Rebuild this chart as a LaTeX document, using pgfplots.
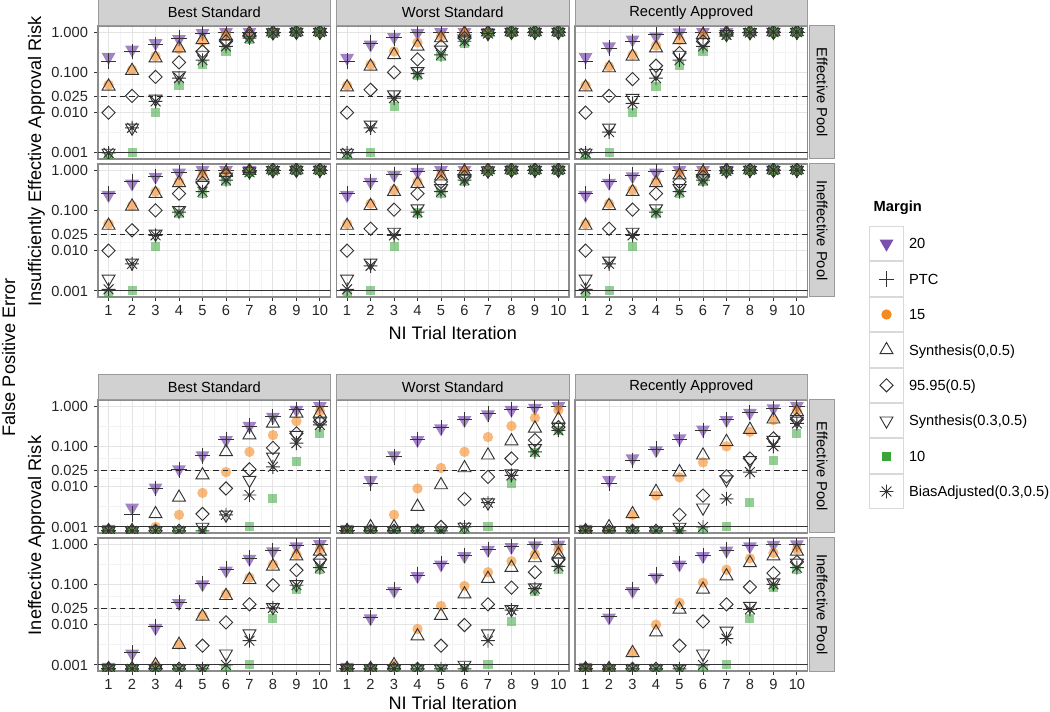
\documentclass[border=0pt]{standalone}
\usepackage{fontspec}
\setmainfont{Liberation Sans}
\usepackage{pgfplots}
\usepackage{pgfplotstable}
\pgfplotsset{compat=1.18}

\definecolor{mpurple}{HTML}{7B4FAF}
\definecolor{morange}{HTML}{F58A24}
\definecolor{mgreen}{HTML}{3AA63A}
\definecolor{gridmaj}{HTML}{E4E4E4}
\definecolor{gridmin}{HTML}{F3F3F3}
\definecolor{framec}{HTML}{8C8C8C}
\definecolor{stripf}{HTML}{D1D1D1}
\definecolor{stripd}{HTML}{9A9A9A}
\definecolor{markc}{HTML}{333333}

\pgfdeclareplotmark{ast8}{%
  \pgfpathmoveto{\pgfqpoint{0pt}{\pgfplotmarksize}}\pgfpathlineto{\pgfqpoint{0pt}{-\pgfplotmarksize}}%
  \pgfpathmoveto{\pgfqpoint{\pgfplotmarksize}{0pt}}\pgfpathlineto{\pgfqpoint{-\pgfplotmarksize}{0pt}}%
  \pgfpathmoveto{\pgfqpoint{.7071\pgfplotmarksize}{.7071\pgfplotmarksize}}\pgfpathlineto{\pgfqpoint{-.7071\pgfplotmarksize}{-.7071\pgfplotmarksize}}%
  \pgfpathmoveto{\pgfqpoint{-.7071\pgfplotmarksize}{.7071\pgfplotmarksize}}\pgfpathlineto{\pgfqpoint{.7071\pgfplotmarksize}{-.7071\pgfplotmarksize}}%
  \pgfusepathqstroke}

\pgfplotsset{
  sA/.style={only marks, mark=triangle*, mark size=6pt, mark options={solid, rotate=180, fill=mpurple, draw=mpurple, fill opacity=0.7, draw opacity=0}},
  sB/.style={only marks, mark=+, mark size=5.8pt, mark options={solid, draw=markc, line width=0.7pt}},
  sC/.style={only marks, mark=*, mark size=3.9pt, mark options={solid, fill=morange, draw=morange, fill opacity=0.6, draw opacity=0}},
  sD/.style={only marks, mark=triangle, mark size=5.6pt, mark options={solid, draw=markc, line width=0.7pt}},
  sE/.style={only marks, mark=square, mark size=3.5pt, mark options={solid, rotate=45, draw=markc, line width=0.7pt}},
  sF/.style={only marks, mark=triangle, mark size=5.6pt, mark options={solid, rotate=180, draw=markc, line width=0.7pt}},
  sG/.style={only marks, mark=square*, mark size=3.4pt, mark options={solid, fill=mgreen, draw=mgreen, fill opacity=0.55, draw opacity=0}},
  sH/.style={only marks, mark=ast8, mark size=5.2pt, mark options={solid, draw=markc, line width=0.7pt}},
  lA/.style={only marks, mark=triangle*, mark size=6pt, mark options={solid, rotate=180, fill=mpurple, draw=mpurple, draw opacity=0}},
  lC/.style={only marks, mark=*, mark size=3.9pt, mark options={solid, fill=morange, draw=morange, draw opacity=0}},
  lG/.style={only marks, mark=square*, mark size=3.4pt, mark options={solid, fill=mgreen, draw=mgreen, draw opacity=0}},
  noxl/.style={xticklabels={}, xtick style={draw=none}},
  noyl/.style={yticklabels={}, ytick style={draw=none}},
}

% x A(20) B(PTC) C(15) D(Syn0) E(95.95) F(Syn0.3) G(10) H(BiasAdj)
\pgfplotstableread{
x A B C D E F G H
1 0.24 0.19 0.049 0.045 0.010 0.001 0.0008 0.001
2 0.365 0.33 0.116 0.11 0.026 0.0042 0.001 0.0042
3 0.53 0.49 0.25 0.226 0.077 0.022 0.010 0.019
4 0.67 0.71 0.38 0.40 0.177 0.083 0.047 0.072
5 0.94 0.94 0.59 0.64 0.33 0.27 0.155 0.20
6 1.0 1.0 0.86 0.78 0.59 0.53 0.33 0.44
7 1.0 1.0 0.95 0.95 0.81 0.78 0.64 0.71
8 1.0 1.0 1.0 0.99 0.97 0.97 0.94 0.96
9 1 1 1 1 1 1 0.99 1
10 1 1 1 1 1 1 1 1
}\TEa
\pgfplotstableread{
x A B C D E F G H
1 0.227 0.19 0.047 0.043 0.010 0.001 0.0008 0.001
2 0.485 0.53 0.155 0.14 0.037 0.005 0.001 0.0042
3 0.75 0.72 0.33 0.27 0.10 0.028 0.014 0.023
4 0.95 0.95 0.55 0.44 0.21 0.106 0.083 0.093
5 1.0 1.0 0.78 0.71 0.44 0.36 0.25 0.27
6 1.0 1.0 0.94 0.94 0.71 0.68 0.53 0.59
7 1 1 0.99 0.99 0.95 0.93 0.9 0.92
8 1 1 1 1 1 1 0.99 1
9 1 1 1 1 1 1 1 1
10 1 1 1 1 1 1 1 1
}\TEb
\pgfplotstableread{
x A B C D E F G H
1 0.24 0.19 0.047 0.043 0.010 0.001 0.0008 0.001
2 0.44 0.40 0.14 0.128 0.026 0.0042 0.001 0.0033
3 0.65 0.59 0.27 0.25 0.068 0.023 0.010 0.017
4 0.78 0.86 0.46 0.40 0.146 0.096 0.045 0.072
5 0.98 0.98 0.64 0.64 0.30 0.27 0.146 0.20
6 1.0 1.0 0.86 0.86 0.59 0.55 0.33 0.44
7 1 1 0.98 0.98 0.9 0.88 0.8 0.85
8 1 1 1 1 0.98 0.98 0.96 0.97
9 1 1 1 1 1 1 1 1
10 1 1 1 1 1 1 1 1
}\TEc
\pgfplotstableread{
x A B C D E F G H
1 0.237 0.26 0.046 0.042 0.010 0.002 0.0008 0.0011
2 0.46 0.51 0.13 0.126 0.032 0.005 0.001 0.0047
3 0.68 0.70 0.29 0.26 0.10 0.026 0.013 0.024
4 0.86 0.86 0.51 0.48 0.26 0.10 0.083 0.09
5 1.0 1.0 0.75 0.70 0.48 0.42 0.26 0.29
6 1.0 1.0 0.90 0.86 0.75 0.68 0.51 0.56
7 1 1 0.96 0.96 0.93 0.92 0.85 0.88
8 1 1 1 1 0.99 0.99 0.98 0.98
9 1 1 1 1 1 1 1 1
10 1 1 1 1 1 1 1 1
}\TIa
\pgfplotstableread{
x A B C D E F G H
1 0.237 0.26 0.046 0.042 0.010 0.002 0.0008 0.0011
2 0.51 0.51 0.146 0.13 0.035 0.005 0.001 0.0042
3 0.75 0.78 0.32 0.29 0.104 0.029 0.013 0.024
4 0.90 0.93 0.51 0.46 0.26 0.11 0.086 0.09
5 1.0 1.0 0.75 0.70 0.51 0.35 0.26 0.29
6 1.0 1.0 0.96 0.92 0.68 0.62 0.51 0.56
7 1 1 1 1 0.97 0.96 0.93 0.95
8 1 1 1 1 1 1 1 1
9 1 1 1 1 1 1 1 1
10 1 1 1 1 1 1 1 1
}\TIb
\pgfplotstableread{
x A B C D E F G H
1 0.237 0.26 0.046 0.042 0.010 0.002 0.0008 0.0011
2 0.48 0.51 0.146 0.13 0.035 0.0056 0.001 0.0047
3 0.70 0.75 0.32 0.29 0.104 0.029 0.013 0.024
4 0.86 0.93 0.51 0.48 0.26 0.11 0.086 0.09
5 1.0 1.0 0.83 0.75 0.51 0.35 0.26 0.29
6 1.0 1.0 0.96 0.88 0.68 0.62 0.51 0.56
7 1 1 1 1 0.97 0.96 0.93 0.95
8 1 1 1 1 1 1 1 1
9 1 1 1 1 1 1 1 1
10 1 1 1 1 1 1 1 1
}\TIc
\pgfplotstableread{
x A B C D E F G H
1 0.0009 0.0008 0.0008 0.0008 0.0008 0.0008 0.0008 0.0008
2 0.003 0.0021 0.0008 0.0008 0.0008 0.0008 0.0008 0.0008
3 0.0095 0.009 0.001 0.0021 0.0008 0.0008 0.0008 0.0008
4 0.027 0.026 0.002 0.0054 0.0008 0.0008 0.0008 0.0008
5 0.06 0.058 0.007 0.0194 0.0021 0.001 0.0008 0.0008
6 0.143 0.15 0.023 0.073 0.009 0.002 0.0007 0.002
7 0.32 0.32 0.073 0.19 0.027 0.0145 0.001 0.0062
8 0.54 0.54 0.19 0.37 0.092 0.055 0.005 0.031
9 0.80 0.80 0.42 0.66 0.21 0.19 0.043 0.12
10 1.0 0.97 0.75 0.66 0.41 0.41 0.21 0.34
}\BEa
\pgfplotstableread{
x A B C D E F G H
1 0.0009 0.0008 0.0008 0.0008 0.0008 0.0008 0.0008 0.0008
2 0.0145 0.012 0.0008 0.001 0.0008 0.0008 0.0008 0.0008
3 0.06 0.055 0.002 0.001 0.0008 0.0008 0.0008 0.0008
4 0.143 0.15 0.009 0.0032 0.0008 0.0008 0.0008 0.0008
5 0.28 0.29 0.029 0.011 0.001 0.0008 0.0008 0.0008
6 0.45 0.46 0.073 0.029 0.0049 0.001 0.0008 0.001
7 0.62 0.64 0.17 0.06 0.0175 0.004 0.001 0.004
8 0.80 0.82 0.32 0.135 0.05 0.021 0.012 0.019
9 0.90 0.92 0.51 0.28 0.143 0.089 0.07 0.073
10 1.0 1.0 0.80 0.47 0.30 0.30 0.25 0.25
}\BEb
\pgfplotstableread{
x A B C D E F G H
1 0.0009 0.0008 0.0008 0.0008 0.0008 0.0008 0.0008 0.0008
2 0.0145 0.012 0.0008 0.001 0.0008 0.0008 0.0008 0.0008
3 0.05 0.045 0.002 0.0021 0.0008 0.0008 0.0008 0.0008
4 0.08 0.085 0.006 0.0075 0.0008 0.0008 0.0008 0.0008
5 0.157 0.15 0.017 0.023 0.002 0.001 0.0008 0.0008
6 0.26 0.25 0.04 0.06 0.006 0.003 0.0008 0.001
7 0.45 0.46 0.10 0.13 0.018 0.015 0.001 0.005
8 0.68 0.70 0.23 0.26 0.05 0.045 0.004 0.023
9 0.88 0.85 0.45 0.47 0.157 0.143 0.044 0.10
10 1.0 1.0 0.77 0.72 0.47 0.43 0.21 0.37
}\BEc
\pgfplotstableread{
x A B C D E F G H
1 0.0009 0.0008 0.0008 0.0008 0.0008 0.0008 0.0008 0.0008
2 0.0019 0.002 0.0008 0.0008 0.0008 0.0008 0.0008 0.0008
3 0.0083 0.0088 0.001 0.001 0.0008 0.0008 0.0008 0.0008
4 0.034 0.036 0.0032 0.0032 0.0008 0.0008 0.0008 0.0008
5 0.1 0.104 0.0168 0.016 0.003 0.0008 0.0008 0.0008
6 0.22 0.24 0.057 0.052 0.0114 0.0019 0.0008 0.001
7 0.43 0.45 0.146 0.13 0.032 0.006 0.001 0.004
8 0.66 0.68 0.31 0.28 0.095 0.027 0.014 0.026
9 0.88 0.90 0.55 0.50 0.225 0.10 0.075 0.095
10 1.0 1.0 0.73 0.66 0.41 0.34 0.23 0.26
}\BIa
\pgfplotstableread{
x A B C D E F G H
1 0.0009 0.0008 0.0008 0.0008 0.0008 0.0008 0.0008 0.0008
2 0.0143 0.015 0.0008 0.0008 0.0008 0.0008 0.0008 0.0008
3 0.069 0.075 0.001 0.001 0.0008 0.0008 0.0008 0.0008
4 0.16 0.17 0.0078 0.0052 0.0008 0.0008 0.0008 0.0008
5 0.31 0.33 0.029 0.0168 0.003 0.0008 0.0008 0.0008
6 0.50 0.52 0.091 0.057 0.0098 0.001 0.0008 0.0008
7 0.72 0.74 0.20 0.138 0.032 0.006 0.001 0.004
8 0.84 0.86 0.375 0.26 0.083 0.024 0.012 0.023
9 0.93 0.95 0.55 0.45 0.20 0.083 0.068 0.078
10 0.97 0.98 0.73 0.55 0.41 0.37 0.23 0.28
}\BIb
\pgfplotstableread{
x A B C D E F G H
1 0.0009 0.0008 0.0008 0.0008 0.0008 0.0008 0.0008 0.0008
2 0.015 0.016 0.0008 0.0008 0.0008 0.0008 0.0008 0.0008
3 0.068 0.075 0.002 0.002 0.0008 0.0008 0.0008 0.0008
4 0.15 0.17 0.01 0.0065 0.0008 0.0008 0.0008 0.0008
5 0.31 0.33 0.035 0.024 0.003 0.0008 0.0008 0.0008
6 0.5 0.52 0.11 0.075 0.012 0.0019 0.0008 0.001
7 0.69 0.71 0.23 0.16 0.032 0.007 0.001 0.0045
8 0.88 0.92 0.44 0.34 0.086 0.029 0.014 0.024
9 0.96 0.97 0.6 0.5 0.19 0.11 0.083 0.10
10 0.98 1.0 0.73 0.66 0.36 0.34 0.23 0.26
}\BIc

\newcommand{\panel}[3]{%
  \begin{axis}[
    scale only axis, width=174.375pt, height=99.75pt,
    at={#2}, anchor=north west,
    xmin=0.55, xmax=10.45, ymode=log, ymin=7.08e-4, ymax=1.413,
    xtick={1,...,10}, xticklabels={1,2,3,4,5,6,7,8,9,10},
    ytick={0.001,0.01,0.025,0.1,1}, yticklabels={0.001,0.010,0.025,0.100,1.000},
    minor xtick={1.5,2.5,...,9.5}, minor ytick={0.00316,0.0158,0.05,0.316},
    grid=both, major grid style={gridmaj, line width=0.7pt}, minor grid style={gridmin, line width=0.5pt},
    axis line style={framec, line width=0.8pt},
    tick align=outside, xtick pos=left, ytick pos=left,
    major tick length=3pt, minor tick length=0pt,
    tick style={markc, line width=0.7pt},
    tick label style={font=\fontsize{11}{13}\selectfont, text=black!85},
    yticklabel style={xshift=-1pt},
    clip marker paths=true,
    #3]
    \addplot[sA] table[x=x,y=A]{#1};
    \addplot[sB] table[x=x,y=B]{#1};
    \addplot[sC] table[x=x,y=C]{#1};
    \addplot[sD] table[x=x,y=D]{#1};
    \addplot[sE] table[x=x,y=E]{#1};
    \addplot[sF] table[x=x,y=F]{#1};
    \addplot[sG] table[x=x,y=G]{#1};
    \addplot[sH] table[x=x,y=H]{#1};
    \addplot[black!85, line width=0.75pt, dash pattern=on 4pt off 3pt] coordinates {(0.3,0.025) (10.7,0.025)};
    \addplot[black!80, line width=0.8pt] coordinates {(0.3,0.001) (10.7,0.001)};
  \end{axis}}

\newcommand{\topstrip}[3]{\draw[fill=stripf, draw=stripd, line width=0.75pt] (#1,#2) rectangle ++(174.375pt,-19.1pt) node[midway, font=\fontsize{11}{13}\selectfont] {#3};}
\newcommand{\sidestrip}[2]{\draw[fill=stripf, draw=stripd, line width=0.75pt] (607.1pt,#1) rectangle ++(19.1pt,-99.75pt) node[midway, rotate=-90, font=\fontsize{11}{13}\selectfont] {#2};}

\begin{document}
\begin{tikzpicture}
\useasboundingbox (0,0) rectangle (787.5pt,-534pt);

% top block
\panel{\TEa}{(73.5pt,-19.5pt)}{noxl}
\panel{\TEb}{(252.375pt,-19.5pt)}{noxl,noyl}
\panel{\TEc}{(431.25pt,-19.5pt)}{noxl,noyl}
\panel{\TIa}{(73.5pt,-123pt)}{}
\panel{\TIb}{(252.375pt,-123pt)}{noyl}
\panel{\TIc}{(431.25pt,-123pt)}{noyl}
% bottom block
\panel{\BEa}{(73.5pt,-300pt)}{noxl}
\panel{\BEb}{(252.375pt,-300pt)}{noxl,noyl}
\panel{\BEc}{(431.25pt,-300pt)}{noxl,noyl}
\panel{\BIa}{(73.5pt,-403.5pt)}{}
\panel{\BIb}{(252.375pt,-403.5pt)}{noyl}
\panel{\BIc}{(431.25pt,-403.5pt)}{noyl}

% strips
\topstrip{73.5pt}{0pt}{Best Standard}
\topstrip{252.375pt}{0pt}{Worst Standard}
\topstrip{431.25pt}{0pt}{Recently Approved}
\topstrip{73.5pt}{-280.6pt}{Best Standard}
\topstrip{252.375pt}{-280.6pt}{Worst Standard}
\topstrip{431.25pt}{-280.6pt}{Recently Approved}
\sidestrip{-19.5pt}{Effective Pool}
\sidestrip{-123pt}{Ineffective Pool}
\sidestrip{-300pt}{Effective Pool}
\sidestrip{-403.5pt}{Ineffective Pool}

% axis labels
\node[font=\fontsize{13.6}{16}\selectfont, inner sep=0pt] at (339.56pt,-249.75pt) {NI Trial Iteration};
\node[font=\fontsize{13.6}{16}\selectfont, inner sep=0pt] at (339.56pt,-527.3pt) {NI Trial Iteration};
\node[font=\fontsize{13.6}{16}\selectfont, rotate=90] at (27.4pt,-121.1pt) {Insufficiently Effective Approval Risk};
\node[font=\fontsize{13.6}{16}\selectfont, rotate=90] at (27.4pt,-401.6pt) {Ineffective Approval Risk};
\node[font=\fontsize{13.6}{16}\selectfont, rotate=90] at (6.4pt,-268pt) {False Positive Error};

% legend
\node[anchor=west, font=\bfseries\fontsize{11}{13}\selectfont] at (651.75pt,-156pt) {Margin};
\begin{axis}[hide axis, scale only axis, width=10pt, height=10pt, at={(651.75pt,-169.5pt)}, anchor=north west,
  xmin=0, xmax=1, ymin=0, ymax=1,
  legend style={at={(0,1)}, anchor=north west, draw=none, fill=none, inner sep=0pt, outer sep=0pt,
    row sep=0pt, column sep=3.75pt,
    nodes={inner sep=0pt, text height=7.9pt, text depth=0pt, font=\fontsize{11}{13}\selectfont}},
  legend cell align=left,
  legend image code/.code={\draw[draw=black!15, fill=white, line width=0.75pt] (-12.75pt,-12.9pt) rectangle (12.75pt,12.9pt); \draw[#1] plot coordinates {(0pt,0pt)};}]
  \addlegendimage{lA} \addlegendentry{20}
  \addlegendimage{sB} \addlegendentry{PTC}
  \addlegendimage{lC} \addlegendentry{15}
  \addlegendimage{sD} \addlegendentry{Synthesis(0,0.5)}
  \addlegendimage{sE} \addlegendentry{95.95(0.5)}
  \addlegendimage{sF} \addlegendentry{Synthesis(0.3,0.5)}
  \addlegendimage{lG} \addlegendentry{10}
  \addlegendimage{sH} \addlegendentry{BiasAdjusted(0.3,0.5)}
\end{axis}
\end{tikzpicture}
\end{document}
